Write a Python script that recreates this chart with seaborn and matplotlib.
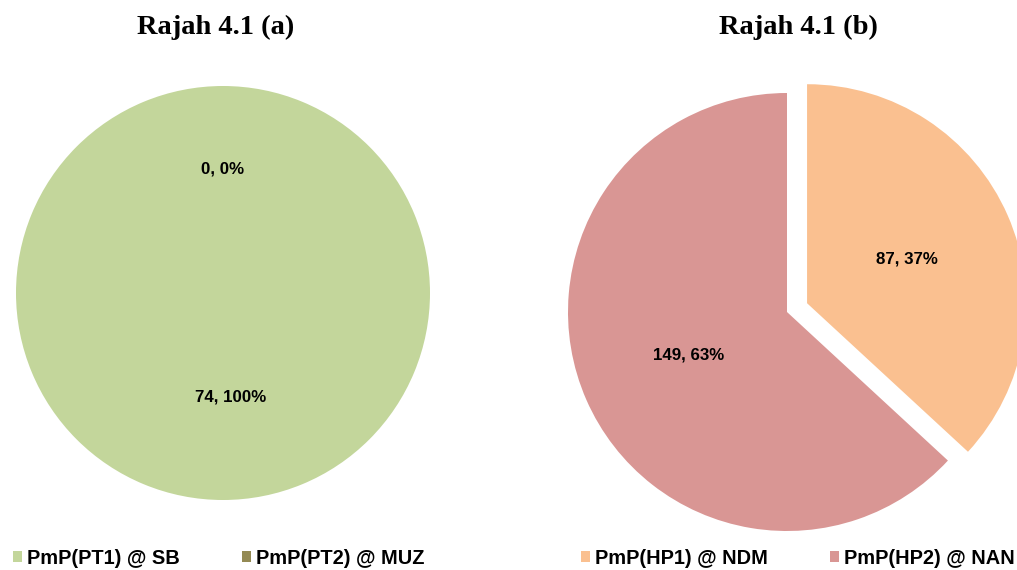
import numpy as np
import matplotlib
matplotlib.use('Agg')
import matplotlib.pyplot as plt
import seaborn as sns
from matplotlib.patches import Patch

# data for the two pies
labels_a = ['PmP(PT1) @ SB', 'PmP(PT2) @ MUZ']
values_a = [74, 0]
pct_a = [100, 0]
colors_a = ['#C3D69B', '#948A54']

labels_b = ['PmP(HP1) @ NDM', 'PmP(HP2) @ NAN']
values_b = [87, 149]
pct_b = [37, 63]
colors_b = ['#FAC090', '#D99694']

sns.set_theme(style='white')
plt.rcParams['font.family'] = ['Liberation Sans', 'DejaVu Sans']

W, H = 1017, 570
fig = plt.figure(figsize=(W / 100, H / 100), dpi=100)


def pie_ax(cx, cy, r, half=1.35):
    # axes in pixel coords, 1 data unit = r pixels
    s = half * r
    ax = fig.add_axes([(cx - s) / W, (H - cy - s) / H, 2 * s / W, 2 * s / H])
    return ax, half


def draw_pie(ax, half, values, pcts, colors, explode, dists, dx):
    wedges, _ = ax.pie(values, colors=colors, startangle=90, counterclock=False,
                       explode=explode, radius=1,
                       wedgeprops=dict(linewidth=0))
    for w, v, p, d, sx in zip(wedges, values, pcts, dists, dx):
        ang = np.deg2rad((w.theta1 + w.theta2) / 2)
        x = w.center[0] + d * np.cos(ang) + sx
        y = w.center[1] + d * np.sin(ang)
        ax.text(x, y, f'{v}, {p}%', ha='center', va='center',
                fontsize=12.2, fontweight='bold', color='black')
    ax.set_xlim(-half, half)
    ax.set_ylim(-half, half)
    ax.set_aspect('equal')
    ax.axis('off')


ax1, h1 = pie_ax(223, 293, 207)
draw_pie(ax1, h1, values_a, pct_a, colors_a, [0, 0], [0.5, 0.6], [0.035, 0])

ax2, h2 = pie_ax(787, 312, 219)
draw_pie(ax2, h2, values_b, pct_b, colors_b, [0.1, 0], [0.5, 0.49], [0, 0])

# titles
serif = ['Liberation Serif', 'DejaVu Serif']
fig.text(216 / W, 1 - 27 / H, 'Rajah 4.1 (a)', ha='center', va='center',
         fontsize=20.5, fontweight='bold', family=serif, color='black')
fig.text(798 / W, 1 - 27 / H, 'Rajah 4.1 (b)', ha='center', va='center',
         fontsize=20.5, fontweight='bold', family=serif, color='black')

# legends
for labs, cols, x0 in [(labels_a, colors_a, 13), (labels_b, colors_b, 581)]:
    handles = [Patch(facecolor=c, edgecolor='none') for c in cols]
    fig.legend(handles, labs, loc='center left', bbox_to_anchor=(x0 / W, 1 - 558 / H),
               ncol=2, frameon=False, handlelength=0.45, handleheight=0.45,
               handletextpad=0.25, columnspacing=3.1, borderpad=0, borderaxespad=0,
               labelcolor='black', prop=dict(size=14.4, weight='bold'))

fig.savefig('out.png', dpi=100)
